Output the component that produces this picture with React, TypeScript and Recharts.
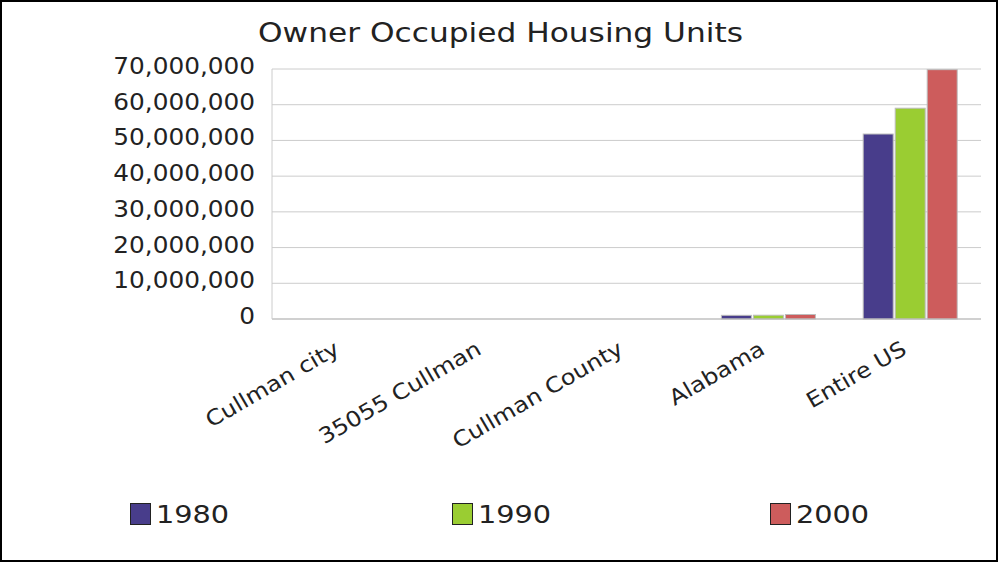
import React from "react";
import {
  BarChart,
  Bar,
  XAxis,
  YAxis,
  CartesianGrid,
} from "recharts";

const categories = [
  "Cullman city",
  "35055 Cullman",
  "Cullman County",
  "Alabama",
  "Entire US",
];
const units1980 = [3900, 7600, 17400, 1027000, 51795000];
const units1990 = [4300, 8300, 19600, 1061900, 59024800];
const units2000 = [4700, 9000, 22100, 1258700, 69815800];
const yTicks = [0, 10000000, 20000000, 30000000, 40000000, 50000000, 60000000, 70000000];

const seriesList = [
  { key: "y1980", name: "1980", color: "#483D8B", values: units1980 },
  { key: "y1990", name: "1990", color: "#9ACD32", values: units1990 },
  { key: "y2000", name: "2000", color: "#CD5C5C", values: units2000 },
];

const data = categories.map((name, i) => ({
  name,
  y1980: units1980[i],
  y1990: units1990[i],
  y2000: units2000[i],
}));

const FONT = "'DejaVu Sans', Verdana, sans-serif";
const TEXT = "#222";

const YTick = (props: any) => {
  const { x, y, payload } = props;
  return (
    <g transform={`translate(${x - 9},${y + 5})`}>
      <text
        textAnchor="end"
        fontFamily={FONT}
        fontSize={22.5}
        fill={TEXT}
        transform="scale(1.1,1)"
      >
        {Number(payload.value).toLocaleString("en-US")}
      </text>
    </g>
  );
};

const XTick = (props: any) => {
  const { x, y, payload } = props;
  return (
    <g transform={`translate(${x - 2},${y + 26})`}>
      <text
        textAnchor="end"
        fontFamily={FONT}
        fontSize={21.5}
        fill={TEXT}
        transform="rotate(-30) scale(1.12,1)"
      >
        {payload.value}
      </text>
    </g>
  );
};

// bars thinner than a pixel get no outline
const BarShape = (props: any) => {
  const { x, y, width, height, fill } = props;
  if (!height || height < 1) return null;
  return (
    <rect
      x={x}
      y={y}
      width={width}
      height={height}
      fill={fill}
      stroke="#bdbdbd"
      strokeWidth={1}
    />
  );
};

const legendPos = [130, 452, 770];

export default function App() {
  return (
    <div
      style={{
        position: "absolute",
        left: 0,
        top: 0,
        width: 999,
        height: 563,
        background: "#fff",
      }}
    >
      <BarChart
        width={999}
        height={563}
        data={data}
        margin={{ top: 69, right: 18, left: 122, bottom: 204 }}
        barCategoryGap={24}
        barGap={2}
      >
        <CartesianGrid vertical={false} stroke="#cccccc" />
        <XAxis
          dataKey="name"
          height={40}
          tickLine={false}
          axisLine={{ stroke: "#bbbbbb" }}
          tick={<XTick />}
          interval={0}
        />
        <YAxis
          width={150}
          domain={[0, 70000000]}
          ticks={yTicks}
          tickLine={false}
          axisLine={{ stroke: "#cccccc" }}
          tick={<YTick />}
          interval={0}
        />
        <YAxis
          yAxisId="right"
          orientation="right"
          width={0}
          domain={[0, 1]}
          tick={false}
          tickLine={false}
          axisLine={{ stroke: "#cccccc" }}
        />
        {seriesList.map((s) => (
          <Bar
            key={s.key}
            dataKey={s.key}
            name={s.name}
            fill={s.color}
            shape={<BarShape />}
            isAnimationActive={false}
          />
        ))}
      </BarChart>
      <svg
        width={999}
        height={563}
        style={{ position: "absolute", left: 0, top: 0, pointerEvents: "none" }}
      >
        <text
          x={258}
          y={42}
          fontFamily={FONT}
          fontSize={26}
          fill={TEXT}
          textLength={485}
          lengthAdjust="spacingAndGlyphs"
        >
          Owner Occupied Housing Units
        </text>
        {seriesList.map((s, i) => (
          <g key={s.key} transform={`translate(${legendPos[i]},0)`}>
            <rect x={0.5} y={503.5} width={20} height={21} fill={s.color} stroke="#222" strokeWidth={1} />
            <g transform="translate(26,523)">
              <text fontFamily={FONT} fontSize={25} fill={TEXT} transform="scale(1.15,1)">
                {s.name}
              </text>
            </g>
          </g>
        ))}
        <rect x={1} y={1} width={996} height={560} fill="none" stroke="#000" strokeWidth={2} />
      </svg>
    </div>
  );
}
